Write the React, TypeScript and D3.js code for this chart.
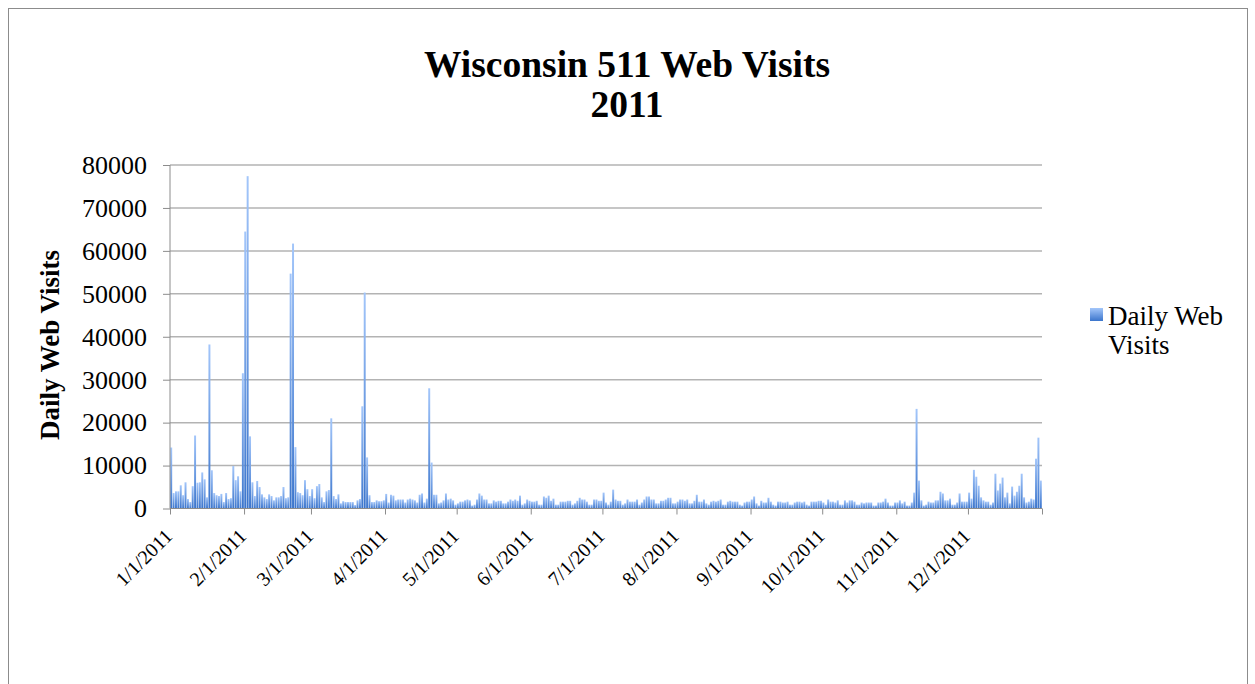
// React
import { useEffect, useRef } from 'react';

// Installed Packages
import * as d3 from 'd3';

// Daily web visits, one array per month
const jan = [14200, 3600, 4000, 4000, 5400, 3100, 6100, 2200, 1500, 5200, 17000, 6000, 6100, 8400, 6800, 2600, 38200, 8900, 3600, 3100, 2900, 3400, 1500, 3600, 2200, 2400, 9900, 6600, 7500, 4000, 31500];
const feb = [64500, 77400, 16800, 6100, 2900, 6400, 5000, 3300, 2600, 2200, 3300, 2900, 1900, 2600, 2600, 2900, 5000, 2400, 2600, 54700, 61700, 14300, 3800, 3600, 3100, 6600, 4500, 2900];
const mar = [4500, 2400, 5200, 5700, 2600, 1500, 4000, 4300, 21000, 2900, 2200, 3300, 1200, 1700, 1500, 1500, 1500, 1500, 800, 1900, 2200, 23800, 50300, 11900, 3100, 1500, 1500, 1900, 1700, 1700, 1900];
const apr = [3400, 1400, 3200, 3000, 1900, 2100, 2100, 2100, 1400, 2100, 2300, 2100, 1900, 1400, 3200, 3500, 1400, 2300, 28000, 10700, 3200, 3200, 1200, 1400, 1900, 3500, 2100, 2300, 1900, 900];
const may = [1200, 1600, 1600, 1900, 2100, 1900, 700, 900, 2100, 3500, 3000, 2100, 2100, 1200, 1200, 1900, 1600, 1800, 1800, 1200, 1200, 1600, 2100, 1800, 2100, 1800, 3000, 900, 1200, 2100, 1800];
const jun = [1600, 1600, 1800, 900, 900, 2800, 2500, 3000, 1800, 2300, 900, 900, 1600, 1600, 1600, 1800, 1800, 900, 1200, 1800, 2500, 2100, 2100, 1600, 900, 900, 2100, 2100, 1800, 1800];
const jul = [3700, 1400, 900, 1600, 4400, 2100, 1800, 1800, 900, 1200, 2100, 1600, 1600, 1600, 2100, 900, 1400, 2100, 2800, 2800, 2100, 2100, 1200, 1200, 1800, 1800, 2100, 2500, 2500, 1200, 1200];
const aug = [1600, 2100, 2100, 1800, 2100, 1200, 1200, 1800, 3200, 1600, 1600, 2100, 1200, 900, 1600, 1800, 1600, 1800, 2100, 900, 900, 1600, 1800, 1600, 1600, 1600, 900, 700, 1400, 1600, 1600];
const sep = [2100, 2800, 1200, 700, 1800, 1400, 1400, 2500, 1600, 900, 700, 1600, 1600, 1400, 1400, 1600, 900, 900, 1400, 1600, 1600, 1400, 1600, 900, 700, 1600, 1600, 1600, 1800, 1800];
const oct = [1400, 900, 2100, 1600, 1600, 1400, 1900, 900, 900, 1900, 1400, 1900, 1900, 1600, 900, 900, 1400, 1200, 1400, 1400, 1400, 700, 700, 1400, 1400, 1600, 2300, 1400, 700, 700, 1400];
const nov = [1400, 1900, 1200, 1600, 700, 700, 1400, 3700, 23200, 6500, 1900, 700, 900, 1600, 1400, 1400, 1900, 1900, 3900, 3500, 1900, 1900, 2300, 900, 900, 1400, 3500, 1600, 1600, 1600];
const dec = [3700, 2300, 9000, 7400, 5300, 2600, 1900, 1600, 1600, 900, 1400, 8100, 4200, 5800, 7200, 2600, 3700, 1200, 5100, 3000, 3900, 5300, 8100, 2600, 1400, 1600, 2300, 2100, 11600, 16500, 6500];

const months = [jan, feb, mar, apr, may, jun, jul, aug, sep, oct, nov, dec];

const yTicks = [0, 10000, 20000, 30000, 40000, 50000, 60000, 70000, 80000];
const titleLines = ['Wisconsin 511 Web Visits', '2011'];
const yAxisTitle = 'Daily Web Visits';
const legendLines = ['Daily Web', 'Visits'];

const FONT = '"Liberation Serif", "Times New Roman", serif';

export default function App() {

    let ref = useRef<SVGSVGElement>(null);

    useEffect(() => {

        const svg = d3.select(ref.current);
        svg.selectAll('*').remove();

        let visits = months.flat();

        let plot = { left: 170, right: 1042, top: 165, bottom: 508.5 };

        // one band per day of 2011
        let x = d3.scaleBand<number>()
            .domain(d3.range(visits.length))
            .range([plot.left, plot.right])
            .paddingInner(0.18)
            .paddingOuter(0.09);

        let xTime = d3.scaleTime()
            .domain([new Date(2011, 0, 1), new Date(2012, 0, 1)])
            .range([plot.left, plot.right]);

        let y = d3.scaleLinear().domain([0, 80000]).range([plot.bottom, plot.top]);

        // Gradient for the bars
        let defs = svg.append('defs');
        let grad = defs.append('linearGradient')
            .attr('id', 'barGrad')
            .attr('x1', 0).attr('y1', 0).attr('x2', 0).attr('y2', 1);
        grad.append('stop').attr('offset', '0%').attr('stop-color', '#a3c6fa');
        grad.append('stop').attr('offset', '100%').attr('stop-color', '#3b75cc');

        // Outer border
        svg.append('rect')
            .attr('x', 8.5).attr('y', 8.5)
            .attr('width', 1239).attr('height', 720)
            .attr('fill', 'white')
            .attr('stroke', '#8c8c8c');

        // Title
        svg.append('text')
            .attr('text-anchor', 'middle')
            .style('font-family', FONT)
            .style('font-weight', 'bold')
            .style('font-size', '37.5px')
            .selectAll('tspan')
            .data(titleLines)
            .join('tspan')
            .attr('x', 627)
            .attr('y', (d, i) => 77 + i * 40)
            .text(d => d);

        // Gridlines
        svg.append('g')
            .selectAll('line')
            .data(yTicks.filter(t => t > 0))
            .join('line')
            .attr('x1', plot.left).attr('x2', plot.right)
            .attr('y1', d => y(d)).attr('y2', d => y(d))
            .attr('stroke', '#b3b3b3')
            .attr('stroke-width', 1.5);

        // Bars
        svg.append('g')
            .selectAll('rect')
            .data(visits)
            .join('rect')
            .attr('x', (d, i) => x(i)!)
            .attr('width', x.bandwidth())
            .attr('y', d => y(d))
            .attr('height', d => plot.bottom - y(d))
            .attr('fill', 'url(#barGrad)');

        // Left axis
        let yAxis = svg.append('g')
            .attr('transform', `translate(${plot.left}, 0)`)
            .call(d3.axisLeft(y).tickValues(yTicks).tickSize(7).tickPadding(16).tickFormat(d3.format('d')));
        yAxis.select('.domain').remove();
        yAxis.selectAll('line').attr('stroke', '#8c8c8c');
        yAxis.selectAll('text')
            .style('font-family', FONT)
            .style('font-size', '26px')
            .attr('fill', '#000');
        svg.append('line')
            .attr('x1', plot.left).attr('x2', plot.left)
            .attr('y1', plot.top).attr('y2', plot.bottom)
            .attr('stroke', '#8c8c8c');

        // Bottom axis
        let monthTicks = d3.timeMonth.range(new Date(2011, 0, 1), new Date(2012, 0, 2));
        let xAxis = svg.append('g')
            .attr('transform', `translate(0, ${plot.bottom})`)
            .call(d3.axisBottom(xTime).tickValues(monthTicks).tickSize(6)
                .tickFormat((d: any) => d.getFullYear() === 2011 ? d3.timeFormat('%-m/%-d/%Y')(d) : ''));
        xAxis.select('.domain').remove();
        xAxis.selectAll('line').attr('stroke', '#8c8c8c');
        xAxis.selectAll('text')
            .attr('x', 0).attr('y', 0).attr('dy', 0)
            .attr('transform', 'translate(3, 29) rotate(-45)')
            .style('text-anchor', 'end')
            .style('font-family', FONT)
            .style('font-size', '20px')
            .attr('fill', '#000');
        svg.append('line')
            .attr('x1', plot.left).attr('x2', plot.right)
            .attr('y1', plot.bottom).attr('y2', plot.bottom)
            .attr('stroke', '#8c8c8c');

        // Y axis title
        svg.append('text')
            .attr('transform', `translate(59, 345) rotate(-90)`)
            .attr('text-anchor', 'middle')
            .style('font-family', FONT)
            .style('font-weight', 'bold')
            .style('font-size', '27px')
            .text(yAxisTitle);

        // Legend
        svg.append('rect')
            .attr('x', 1090).attr('y', 308)
            .attr('width', 13).attr('height', 13)
            .attr('fill', 'url(#barGrad)');
        svg.append('text')
            .style('font-family', FONT)
            .style('font-size', '27px')
            .selectAll('tspan')
            .data(legendLines)
            .join('tspan')
            .attr('x', 1108)
            .attr('y', (d, i) => 325 + i * 28.5)
            .text(d => d);

    }, []);

    return <svg ref={ref} width={1255} height={684} style={{ position: 'absolute', left: 0, top: 0 }}></svg>
}
